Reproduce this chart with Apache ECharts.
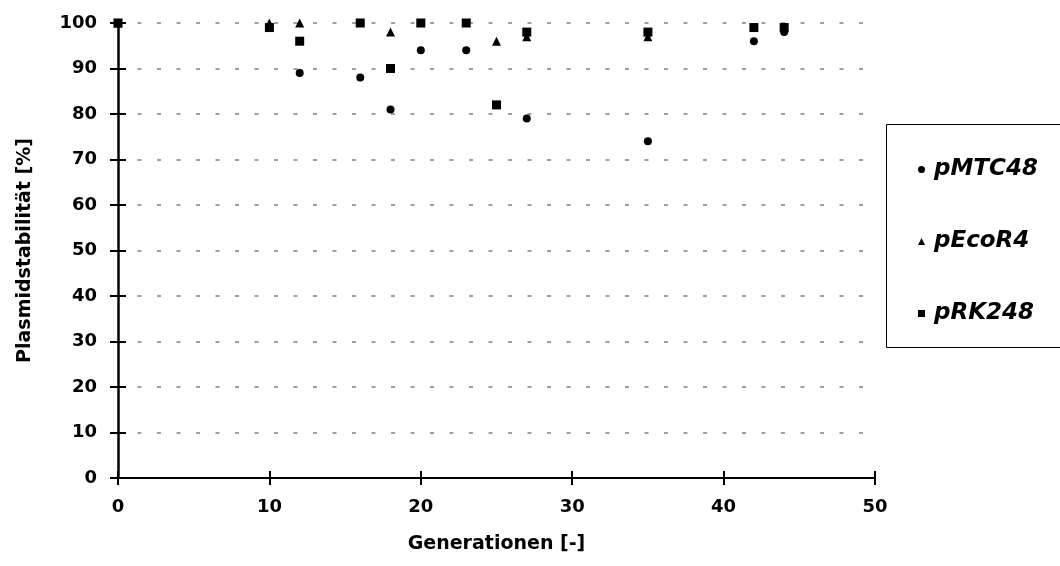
<!DOCTYPE html>
<html>
<head>
<meta charset="utf-8">
<script src="https://cdn.jsdelivr.net/npm/echarts@6/dist/echarts.min.js"></script>
<style>
  html, body { margin: 0; padding: 0; background: #fff; }
  #chart { width: 1060px; height: 566px; }
</style>
</head>
<body>
<div id="chart"></div>
<script>
// Generationen / Plasmidstabilitaet (%) per plasmid
var genMTC = [0, 12, 16, 18, 20, 23, 27, 35, 42, 44]
var valMTC = [100, 89, 88, 81, 94, 94, 79, 74, 96, 98]

var genEco = [0, 10, 12, 18, 25, 27, 35, 44]
var valEco = [100, 100, 100, 98, 96, 97, 97, 99]

var genRK = [0, 10, 12, 16, 18, 20, 23, 25, 27, 35, 42, 44]
var valRK = [100, 99, 96, 100, 90, 100, 100, 82, 98, 98, 99, 99]

var seriesNames = ['pMTC48', 'pEcoR4', 'pRK248']

var font = 'DejaVu Sans'

function pairs(xs, ys) {
  var out = []
  for (var i = 0; i < xs.length; i++) out.push([xs[i], ys[i]])
  return out
}

var chart = echarts.init(document.getElementById('chart'))

var labelStyle = { color: '#000', fontFamily: font, fontWeight: 'bold', fontSize: 18 }
var nameStyle = { color: '#000', fontFamily: font, fontWeight: 'bold', fontSize: 19 }

var option = {
  backgroundColor: '#fff',
  animation: false,
  grid: { left: 118, right: 185, top: 23, bottom: 88 },
  graphic: [
    {
      type: 'rect',
      left: 886,
      top: 124,
      shape: { width: 200, height: 223 },
      style: { fill: '#fff', stroke: '#000', lineWidth: 1 },
      z: 0
    }
  ],
  legend: {
    orient: 'vertical',
    left: 913,
    top: 153,
    itemGap: 49,
    itemWidth: 7,
    itemHeight: 7,
    data: [
      { name: 'pMTC48', icon: 'circle' },
      { name: 'pEcoR4', icon: 'triangle' },
      { name: 'pRK248', icon: 'rect' }
    ],
    itemStyle: { opacity: 1 },
    textStyle: {
      color: '#000',
      fontFamily: font,
      fontWeight: 'bold',
      fontStyle: 'italic',
      fontSize: 23,
      padding: [0, 0, 0, 4]
    },
    z: 5
  },
  xAxis: [
    {
      type: 'value',
      min: 0,
      max: 50,
      interval: 10,
      name: 'Generationen [-]',
      nameLocation: 'middle',
      nameGap: 57,
      nameTextStyle: nameStyle,
      axisLine: { onZero: false, lineStyle: { color: '#000', width: 2 } },
      axisTick: { show: true, length: 7, lineStyle: { color: '#000', width: 2 } },
      axisLabel: Object.assign({ margin: 20 }, labelStyle),
      splitLine: { show: false }
    },
    {
      type: 'value',
      min: 0,
      max: 50,
      interval: 10,
      position: 'bottom',
      axisLine: { show: false },
      axisTick: { show: true, inside: true, length: 7, lineStyle: { color: '#000', width: 2 } },
      axisLabel: { show: false },
      splitLine: { show: false }
    }
  ],
  yAxis: [
    {
      type: 'value',
      min: 0,
      max: 100,
      interval: 10,
      name: 'Plasmidstabilität [%]',
      nameLocation: 'middle',
      nameGap: 83,
      nameTextStyle: nameStyle,
      axisLine: { onZero: false, lineStyle: { color: '#000', width: 2.5 } },
      axisTick: { show: true, length: 8, lineStyle: { color: '#000', width: 2 } },
      axisLabel: Object.assign({ margin: 21 }, labelStyle),
      splitLine: { show: true, lineStyle: { color: '#808080', width: 1.5, type: [4, 15.5] } }
    },
    {
      type: 'value',
      min: 0,
      max: 100,
      interval: 10,
      position: 'left',
      axisLine: { show: false },
      axisTick: { show: true, inside: true, length: 8, lineStyle: { color: '#000', width: 2 } },
      axisLabel: { show: false },
      splitLine: { show: false }
    }
  ],
  series: [
    {
      name: seriesNames[0],
      type: 'scatter',
      symbol: 'circle',
      symbolSize: 8,
      itemStyle: { color: '#000', opacity: 1 },
      data: pairs(genMTC, valMTC),
      z: 3
    },
    {
      name: seriesNames[1],
      type: 'scatter',
      symbol: 'triangle',
      symbolSize: 9,
      itemStyle: { color: '#000', opacity: 1 },
      data: pairs(genEco, valEco),
      z: 4
    },
    {
      name: seriesNames[2],
      type: 'scatter',
      symbol: 'rect',
      symbolSize: 9,
      itemStyle: { color: '#000', opacity: 1 },
      data: pairs(genRK, valRK),
      z: 5
    }
  ]
}

chart.setOption(option)
</script>
</body>
</html>
